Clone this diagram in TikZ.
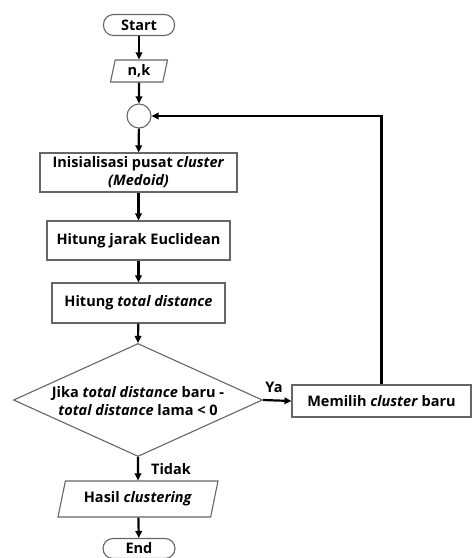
\documentclass[tikz,border=0pt]{standalone}
\usepackage{fontspec}
\setmainfont{Open Sans}
\usetikzlibrary{shapes.geometric,arrows.meta}
\begin{document}
\begin{tikzpicture}[x=1pt,y=-1pt,
  base/.style={draw=black!60, line width=1.1pt, inner sep=0pt, align=center,
    font=\bfseries\fontsize{14.5}{18}\selectfont},
  box/.style={base, rectangle},
  term/.style={base, rectangle, rounded corners=10pt},
  io/.style={base, trapezium, trapezium stretches body},
  cond/.style={base, diamond, inner sep=0pt},
  joint/.style={base, circle},
  txt/.style={inner sep=0pt, align=center, font=\bfseries\fontsize{14.5}{18}\selectfont},
  arr/.style={-{Triangle[length=7pt,width=6.5pt]}, line width=2.2pt},
]
\useasboundingbox (0,0) rectangle (473,558);

\node[term, minimum width=71pt, minimum height=21pt] (start) at (139,25) {Start};
\node[io, trapezium left angle=70, trapezium right angle=110, minimum width=57pt, minimum height=22pt] (nk) at (139,71) {n,k};
\node[joint, minimum size=24pt] (join) at (139,116) {};
\node[box, minimum width=197pt, minimum height=39pt] (init) at (138.5,172.5) {Inisialisasi pusat \textit{cluster}\\\textit{(Medoid)}};
\node[box, minimum width=183pt, minimum height=39pt] (euc) at (138.5,240.5) {Hitung jarak Euclidean};
\node[box, minimum width=173pt, minimum height=40pt] (tot) at (138.5,303) {Hitung \textit{total distance}};
\node[cond, minimum width=249pt, minimum height=113pt] (dec) at (138,400) {};
\node[txt] (dectext) at (138,401) {Jika \textit{total distance} baru -\\\textit{total distance} lama < 0};
\node[box, minimum width=179pt, minimum height=32pt] (new) at (381.5,401) {Memilih \textit{cluster} baru};
\node[io, trapezium left angle=63, trapezium right angle=117, minimum width=160pt, minimum height=36pt] (res) at (138,499) {Hasil \textit{clustering}};
\node[term, minimum width=72pt, minimum height=20pt] (end) at (139,548.5) {End};

\node[txt] (ya) at (274,387) {Ya};
\node[txt] (tidak) at (171,469) {Tidak};

\draw[arr] (start) -- (nk);
\draw[arr] (nk) -- (join);
\draw[arr] (join) -- (init);
\draw[arr] (init) -- (euc);
\draw[arr] (euc) -- (tot);
\draw[arr] (tot) -- (dec.north);
\draw[arr] (dec.east) -- (new.west);
\draw[arr] (new.north) |- (join.east);
\draw[arr] (dec.south) -- (res.north);
\draw[arr] (res) -- (end);
\end{tikzpicture}
\end{document}
